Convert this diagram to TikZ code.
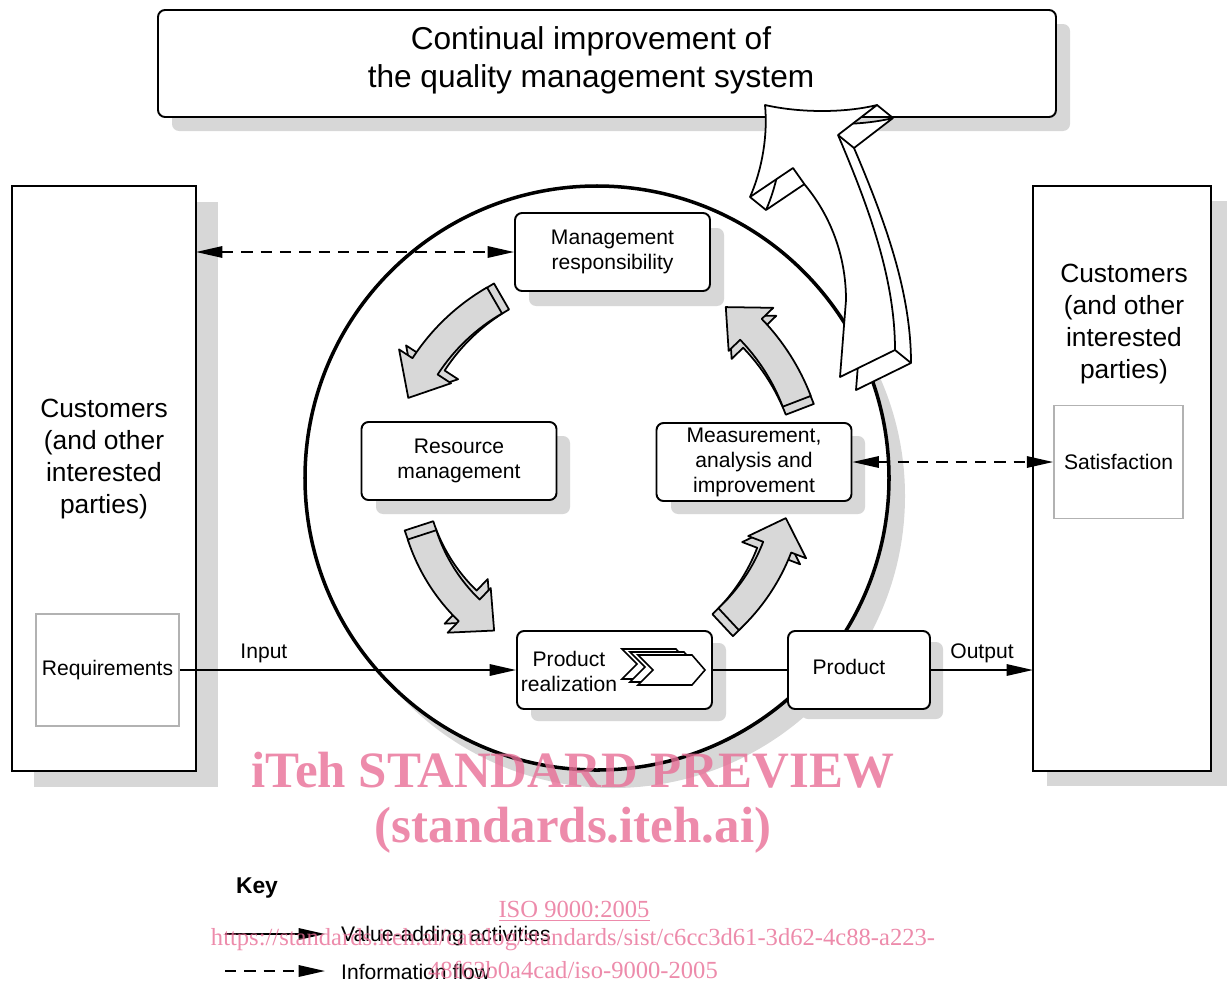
\documentclass[tikz,border=0pt]{standalone}
\usepackage{fontspec}
\setmainfont{Liberation Sans}
\newfontfamily\wmfont{Liberation Serif}
\usetikzlibrary{arrows.meta}

\definecolor{shadowgrey}{RGB}{215,215,215}
\definecolor{arrowgrey}{RGB}{216,216,216}
\definecolor{wmpink}{RGB}{232,110,150}

% curved process arrow: tail angle, head base angle, tip angle, radius
\newcommand{\qarrowpath}[4]{(#1:#4+15) arc[start angle=#1, end angle=#2, radius=#4+15]
  -- (#2:#4+31) -- (#3:#4) -- (#2:#4-31) -- (#2:#4-15)
  arc[start angle=#2, end angle=#1, radius=#4-15] -- cycle}
\newcommand{\qarrow}[6]{%
  \filldraw[qarrow, shift={(#5,#6)}] \qarrowpath{#1}{#2}{#3}{#4};
  \filldraw[qarrow] \qarrowpath{#1}{#2}{#3}{#4};}

% improvement arrow, front face
\newcommand{\bigarrowpath}{(765,105) .. controls (800,113) and (845,113) .. (877,105)
  -- (838,135) .. controls (870,210) and (895,280) .. (895,350)
  -- (840,377) -- (846,300) .. controls (846,255) and (830,215) .. (805,185)
  -- (793,168) -- (750,197) .. controls (762,170) and (768,135) .. (765,105) -- cycle}

\tikzset{
  box/.style={draw, line width=1.1pt, fill=white, rounded corners=4pt, align=center,
    font=\fontsize{12}{14.2}\selectfont, inner sep=0pt},
  shadow/.style={fill=shadowgrey, rounded corners=4pt},
  sidebox/.style={draw, line width=1.1pt, fill=white},
  greybox/.style={draw=black!30, line width=1pt, fill=white, font=\fontsize{12}{14.2}\selectfont},
  label/.style={font=\fontsize{12}{14.2}\selectfont, align=center},
  custtext/.style={font=\fontsize{15}{18.2}\selectfont, align=center},
  qarrow/.style={draw, line width=1pt, fill=arrowgrey, line join=round},
  flow/.style={line width=1pt, -{Triangle[length=15pt, width=6.5pt]}},
  info/.style={line width=1pt, dash pattern=on 6.5pt off 4.5pt,
    {Triangle[length=15pt, width=6.5pt]}-{Triangle[length=15pt, width=6.5pt]}},
  wm/.style={text=wmpink, text opacity=0.8, font=\wmfont}
}

\begin{document}
\begin{tikzpicture}[x=0.02cm, y=-0.02cm]
  \useasboundingbox (0,0) rectangle (1227,984);

  % top box
  \fill[shadow] (172,24) rectangle (1070,131);
  \draw[box] (158,10) rectangle (1056,117);
  \node[font=\fontsize{18}{21.8}\selectfont, align=center] (cont) at (591,60)
    {Continual improvement of\\the quality management system};

  % customer boxes
  \fill[shadowgrey] (34,202) rectangle (218,787);
  \draw[sidebox] (12,186) rectangle (196,771);
  \fill[shadowgrey] (1047,201) rectangle (1240,786);
  \draw[sidebox] (1033,186) rectangle (1211,771);
  \coordinate (lcust) at (196,252);
  \coordinate (rcust) at (1033,670);
  \node[custtext] (custl) at (104,459) {Customers\\(and other\\interested\\parties)};
  \node[custtext] (custr) at (1124,324) {Customers\\(and other\\interested\\parties)};
  \node[greybox, minimum width=141*0.02cm, minimum height=112*0.02cm] (req) at (107.5,670) {Requirements};
  \node[greybox, minimum width=129*0.02cm, minimum height=113*0.02cm] (sat) at (1118.5,462) {Satisfaction};

  % process circle
  \fill[shadowgrey] (613,496) circle[radius=292];
  \draw[line width=2pt, fill=white] (597,478) circle[radius=292];

  % processes
  \begin{scope}[every node/.style={box, minimum width=195*0.02cm, minimum height=78*0.02cm}]
    \fill[shadow] (529,228) rectangle (724,306);
    \node (mgmt) at (612.5,252) {Management\\responsibility};
    \fill[shadow] (376,436) rectangle (570,514);
    \node (res) at (459,461) {Resource\\management};
    \fill[shadow] (671,436) rectangle (865,514);
    \node (meas) at (754,462) {Measurement,\\analysis and\\improvement};
    \fill[shadow] (531,643) rectangle (726,721);
    \node (real) at (614.5,670) {};
    \fill[shadow] (801,642) rectangle (943,719);
    \node[minimum width=142*0.02cm] (prod) at (859,670) {};
  \end{scope}
  \node[label] (realtxt) at (569,671) {Product\\realization};
  \node[label] (prodtxt) at (849,667) {Product};
  \foreach \dx/\dy in {-16/-6, -8/-3, 0/0}
    \draw[line width=0.9pt, fill=white, shift={(\dx,\dy)}]
      (638,655) -- (692,655) -- (705,670) -- (692,685) -- (638,685) -- (653,670) -- cycle;

  % cycle arrows
  \begin{scope}[shift={(597,478)}]
    \qarrow{240}{213}{203}{205}{7}{-4}
    \qarrow{162}{134}{124}{184}{-3}{-9}
    \qarrow{47}{21}{12}{193}{-6}{6}
    \qarrow{339}{316}{307}{214}{3}{8}
  \end{scope}

  % continual improvement arrow
  \filldraw[line width=1pt, fill=white, line join=round, shift={(16,13)}] \bigarrowpath;
  \draw[line width=1pt] (750,197) -- ++(16,13) (877,105) -- ++(16,13) (838,135) -- ++(16,13)
    (895,350) -- ++(16,13);
  \filldraw[line width=1pt, fill=white, line join=round] \bigarrowpath;

  % flows
  \draw[info] (lcust) -- (mgmt.west |- lcust);
  \draw[info] (meas.east) -- (sat.west);
  \draw[flow] (req.east) -- node[label, above, pos=0.25] {Input} (real.west);
  \draw[line width=1pt] (real.east) -- (prod.west);
  \draw[flow] (prod.east) -- node[label, above] {Output} (rcust);

  % key
  \node[font=\bfseries\fontsize{13}{15}\selectfont] (key) at (257,888) {Key};
  \coordinate (k1a) at (225,934);
  \coordinate (k1b) at (325,934);
  \coordinate (k2a) at (225,971);
  \coordinate (k2b) at (325,971);
  \draw[flow] (k1a) -- (k1b);
  \draw[line width=1pt, dash pattern=on 6.5pt off 4.5pt, -{Triangle[length=15pt, width=6.5pt]}] (k2a) -- (k2b);
  \node[label, anchor=west] (kval) at (335,936) {Value-adding activities};
  \node[label, anchor=west] (kinfo) at (335,972) {Information flow};

  % watermark
  \node[wm, font=\wmfont\bfseries\fontsize{29}{34}\selectfont] (wm1) at (573,770) {iTeh STANDARD PREVIEW};
  \node[wm, font=\wmfont\bfseries\fontsize{29}{34}\selectfont] (wm2) at (573,830) {(standards.iteh.ai)};
  \node[wm, font=\wmfont\fontsize{14}{16}\selectfont] (wm3) at (574,911) {\underline{ISO 9000:2005}};
  \node[wm, font=\wmfont\fontsize{14}{16}\selectfont] (wm4) at (573,940)
    {https://standards.iteh.ai/catalog/standards/sist/c6cc3d61-3d62-4c88-a223-};
  \node[wm, font=\wmfont\fontsize{14}{16}\selectfont] (wm5) at (573,970) {48f63b0a4cad/iso-9000-2005};
\end{tikzpicture}
\end{document}
